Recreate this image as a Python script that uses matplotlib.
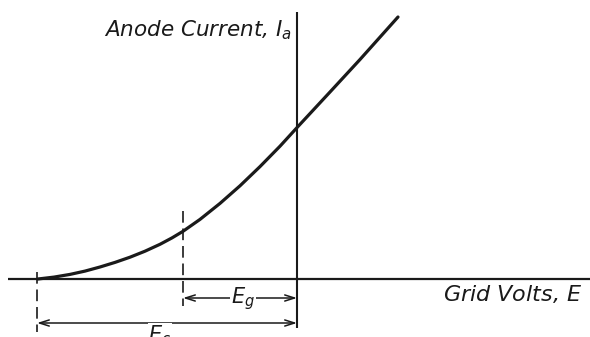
import matplotlib
matplotlib.use("Agg")
import matplotlib.pyplot as plt

plt.rcParams['mathtext.fontset'] = 'dejavusans'

# characteristic curve: grid volts vs anode current (arbitrary units)
grid_volts = [-25.9, -24.3, -22.7, -21.2, -19.7, -18.2, -16.7, -15.2, -13.7,
              -12.5, -11.4, -9.7, -7.7, -5.7, -3.7, -1.7, 0.1, 3.3, 6.3, 10.1]
anode_current = [0.0, 0.19, 0.46, 0.79, 1.2, 1.66, 2.18, 2.78, 3.47,
                 4.11, 4.77, 5.96, 7.56, 9.32, 11.24, 13.28, 15.25, 18.7,
                 21.95, 26.2]

cutoff_volts = -26.0   # E_c
bias_volts = -11.4     # grid bias point
bias_current = 4.77

fig = plt.figure(figsize=(5.9, 3.37), dpi=100)
ax = fig.add_axes([0, 0, 1, 1])
ax.set_xlim(-29.7, 29.3)
ax.set_ylim(-5.8, 27.9)
ax.axis('off')

ink = '#1a1a1a'

# axes
ax.plot([-28.9, 29.3], [0, 0], color=ink, lw=1.6, solid_capstyle='butt')
ax.plot([0, 0], [-4.9, 26.7], color=ink, lw=1.5, solid_capstyle='butt')

# curve
ax.plot(grid_volts, anode_current, color=ink, lw=2.3, solid_capstyle='round',
        solid_joinstyle='round')

# dashed projection lines
ax.plot([cutoff_volts, cutoff_volts], [0.7, -5.3], color=ink, lw=1.2,
        ls=(0, (7, 3.5)))
ax.plot([bias_volts, bias_volts], [bias_current + 2.0, -2.7], color=ink,
        lw=1.2, ls=(0, (7, 3.5)))

arrow = dict(arrowstyle='<->,head_length=0.7,head_width=0.22', color=ink,
             lw=1.1, shrinkA=0, shrinkB=0)
ax.annotate('', xy=(bias_volts, -1.9), xytext=(0, -1.9), arrowprops=arrow)
ax.annotate('', xy=(cutoff_volts, -4.4), xytext=(0, -4.4), arrowprops=arrow)

txt = dict(color=ink, style='italic', family='DejaVu Sans')
ax.text(-5.4, -2.0, r'$E_g$', fontsize=15, ha='center', va='center',
        bbox=dict(fc='white', ec='none', pad=0.5), **txt)
ax.text(-13.7, -5.6, r'$E_c$', fontsize=15, ha='center', va='center',
        bbox=dict(fc='white', ec='none', pad=0.5), **txt)

ax.text(-0.5, 24.9, r'Anode Current, $I_a$', fontsize=15.5, ha='right',
        va='center', **txt)
ax.text(28.5, -1.5, r'Grid Volts, $E$', fontsize=16, ha='right',
        va='center', **txt)

fig.savefig('out.png', dpi=100)
